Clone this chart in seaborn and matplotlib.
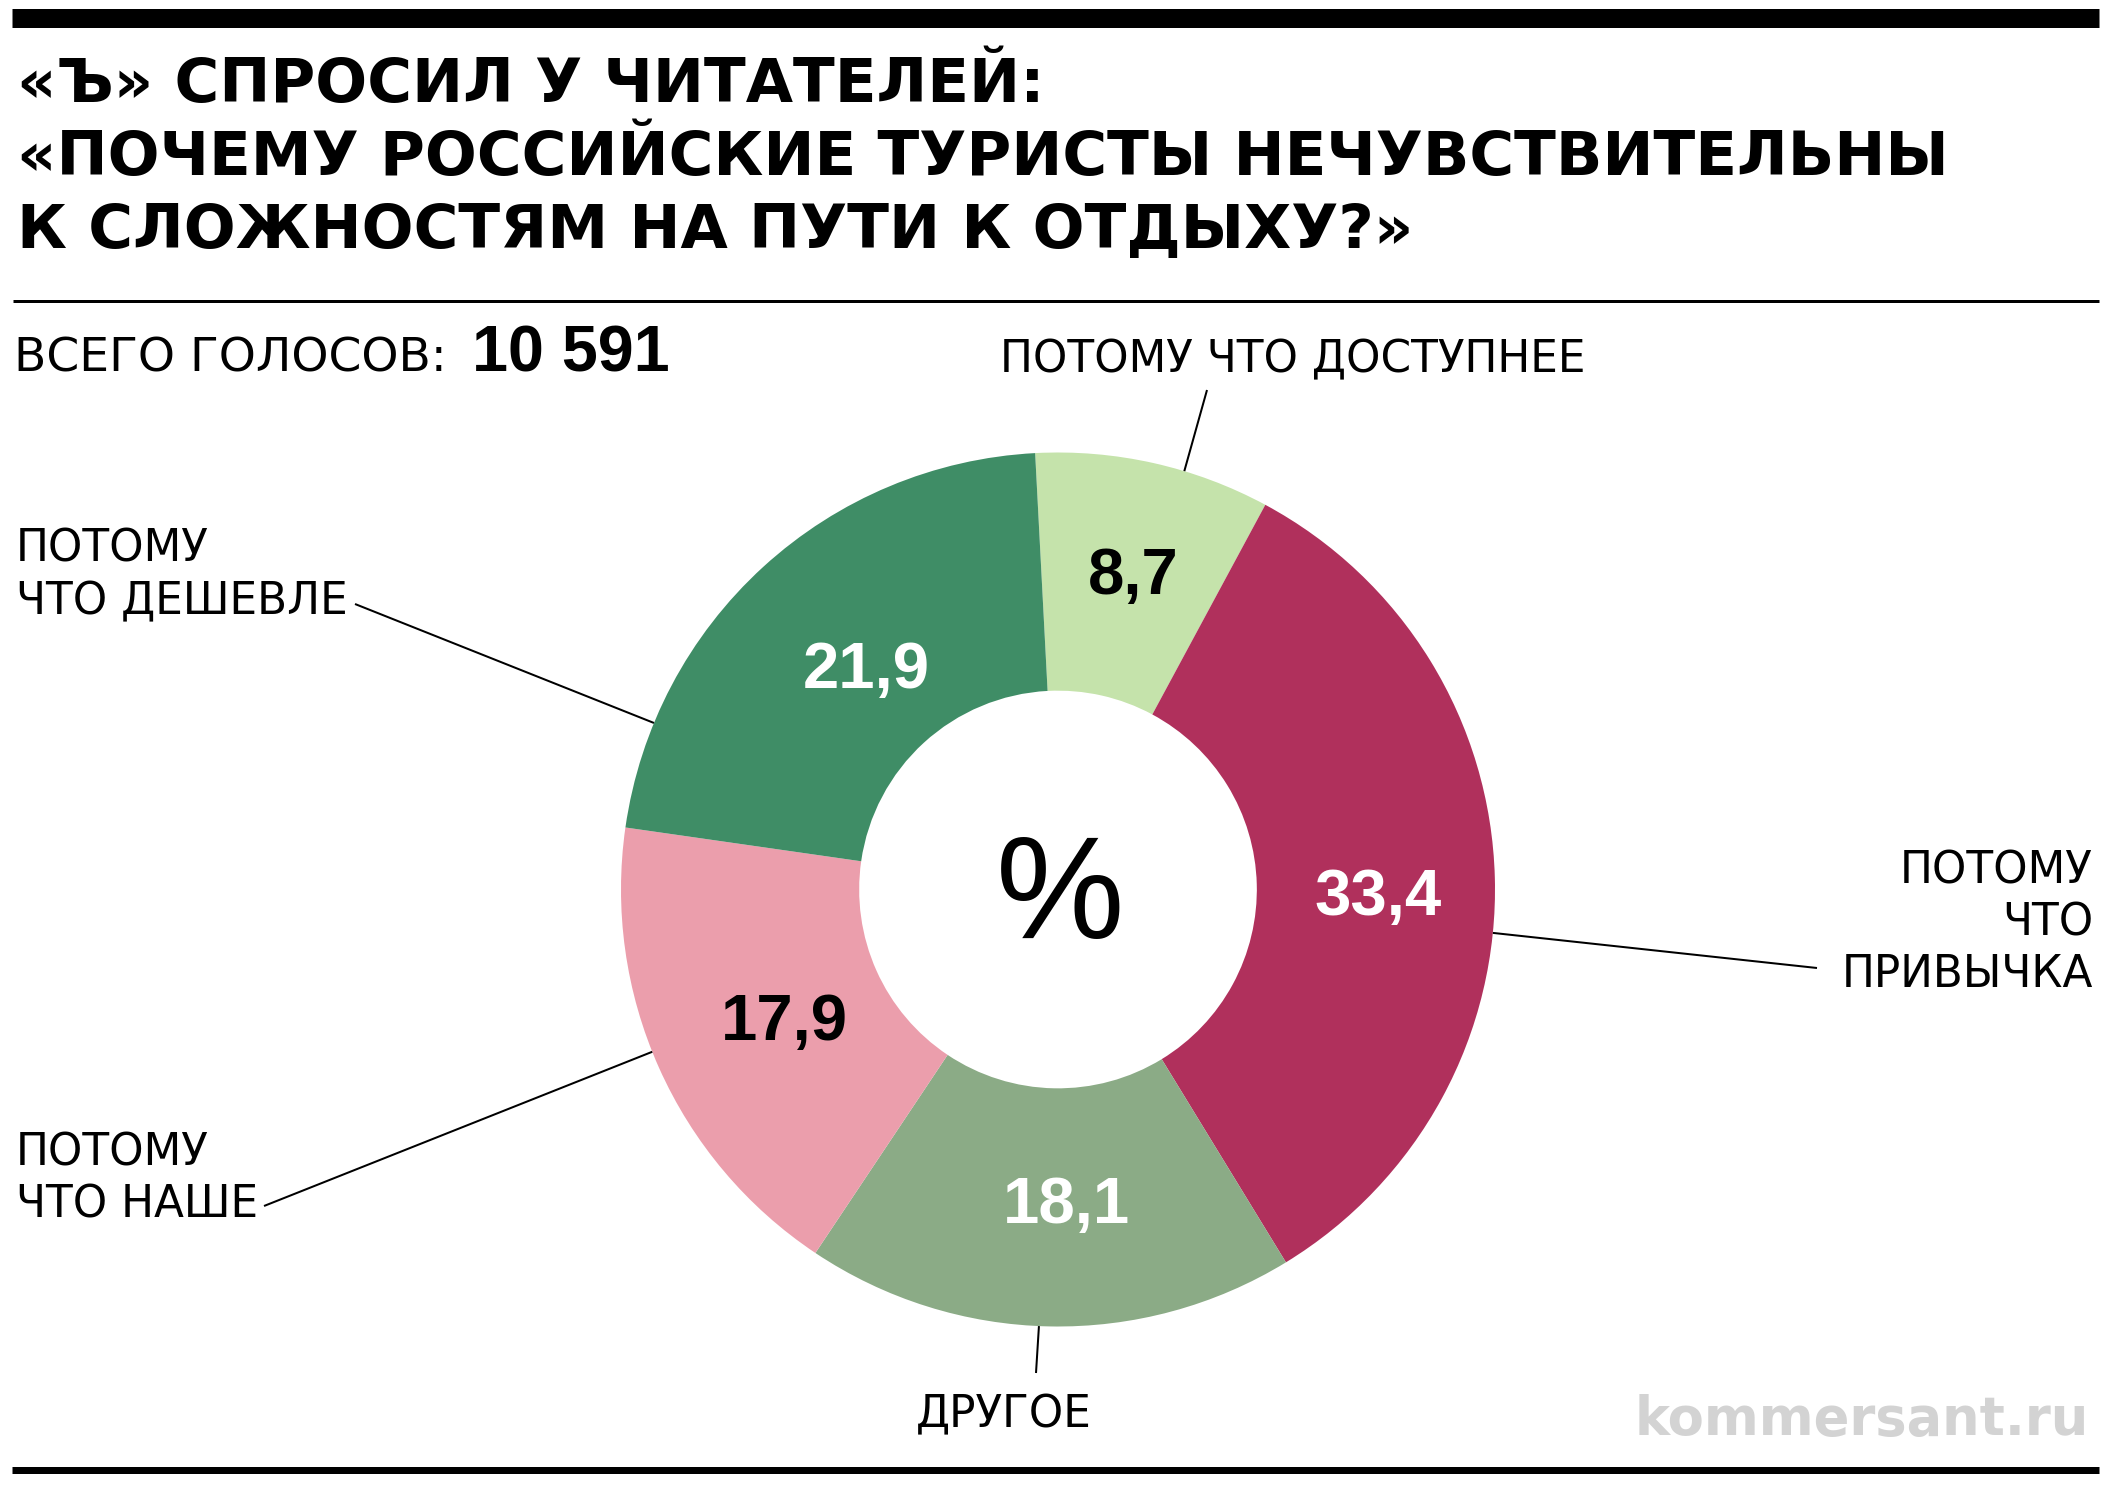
import matplotlib
matplotlib.use("Agg")
import matplotlib.pyplot as plt
import seaborn as sns
import numpy as np

# ---------------- data ----------------
categories = ["ПОТОМУ ЧТО ДОСТУПНЕЕ", "ПОТОМУ\nЧТО\nПРИВЫЧКА", "ДРУГОЕ",
              "ПОТОМУ\nЧТО НАШЕ", "ПОТОМУ\nЧТО ДЕШЕВЛЕ"]
values = [8.7, 33.4, 18.1, 17.9, 21.9]
slice_colors = ["#c5e3ab", "#b0305c", "#8bab86", "#eb9eac", "#3f8d66"]
value_text_colors = ["black", "white", "white", "black", "white"]
title_lines = ["«Ъ» СПРОСИЛ У ЧИТАТЕЛЕЙ:",
               "«ПОЧЕМУ РОССИЙСКИЕ ТУРИСТЫ НЕЧУВСТВИТЕЛЬНЫ",
               "К СЛОЖНОСТЯМ НА ПУТИ К ОТДЫХУ?»"]
votes_label = "ВСЕГО ГОЛОСОВ:"
votes_total = "10 591"
center_text = "%"
source_text = "kommersant.ru"

# ---------------- layout ----------------
W, H = 2112, 1488
sns.set_theme(style="white")
plt.rcParams['font.family'] = ['DejaVu Sans']
plt.rcParams['text.color'] = 'black'

fig = plt.figure(figsize=(W / 100, H / 100), dpi=100)
ax = fig.add_axes([0, 0, 1, 1])

CX, CY = 1058, H - 889.5
R = 437
RING = 0.545 * R

palette = sns.color_palette(slice_colors)
wedges, _ = ax.pie(values, colors=palette, startangle=93, counterclock=False,
                   radius=R, center=(CX, CY),
                   wedgeprops=dict(width=RING, linewidth=0))
ax.set_xlim(0, W)
ax.set_ylim(0, H)
ax.set_aspect('equal')
ax.axis('off')


def T(x, y_img, s, **kw):
    kw.setdefault('color', 'black')
    return ax.text(x, H - y_img, s, **kw)


# rules
ax.plot([12, 2099], [H - 17.5] * 2, color='black', lw=19 * 0.72, solid_capstyle='butt')
ax.plot([13, 2099], [H - 301] * 2, color='black', lw=3 * 0.72, solid_capstyle='butt')
ax.plot([12, 2099], [H - 1469.5] * 2, color='black', lw=7 * 0.72, solid_capstyle='butt')

# title
for line, base in zip(title_lines, [102, 175, 248]):
    T(17, base, line, fontsize=44, fontweight='bold', va='baseline', ha='left')

# votes
T(14, 371, votes_label, fontsize=34, va='baseline', ha='left')
T(472, 371, votes_total, fontsize=46.5, fontweight='bold', va='baseline', ha='left',
  family=['Liberation Sans', 'DejaVu Sans'])

# value labels inside ring
ang_nudge = [-0.7, -2.0, 2.8, 0.8, -2.0]
rad_frac = [0.75, 0.732, 0.709, 0.689, 0.677]
for w, v, c, dn, rf in zip(wedges, values, value_text_colors, ang_nudge, rad_frac):
    mid = np.deg2rad((w.theta1 + w.theta2) / 2 + dn)
    x = CX + rf * R * np.cos(mid)
    y = CY + rf * R * np.sin(mid)
    ax.text(x, y - 23.5, f"{v:.1f}".replace('.', ','), color=c, fontsize=47,
            fontweight='bold', ha='center', va='baseline',
            family=['Liberation Sans', 'DejaVu Sans'])

# centre sign
T(1060, 938, center_text, fontsize=104, ha='center', va='baseline',
  family=['Liberation Sans', 'DejaVu Sans'])

# outer labels and leaders
label_pos = [(1000, 372, 'left'), (2093, 883, 'right'), (1004, 1427, 'center'),
             (16, 1165, 'left'), (16, 562, 'left')]
leaders = [(73.2, 1207, 390), (-5.7, 1817, 968), (-92.5, 1036, 1373),
           (201.8, 264, 1206), (157.6, 355, 604)]
for cat, (lx, lb, ha), (a, ex, ey) in zip(categories, label_pos, leaders):
    for i, ln in enumerate(cat.split("\n")):
        T(lx, lb + 52 * i, ln, fontsize=31.5, ha=ha, va='baseline')
    ar = np.deg2rad(a)
    ax.plot([CX + R * np.cos(ar), ex], [CY + R * np.sin(ar), H - ey],
            color='black', lw=1.45, solid_capstyle='butt')

# source
T(2089, 1435, source_text, fontsize=38, fontweight='bold', color='#d3d3d3',
  ha='right', va='baseline')

fig.savefig("out.png", dpi=100, facecolor='white')
